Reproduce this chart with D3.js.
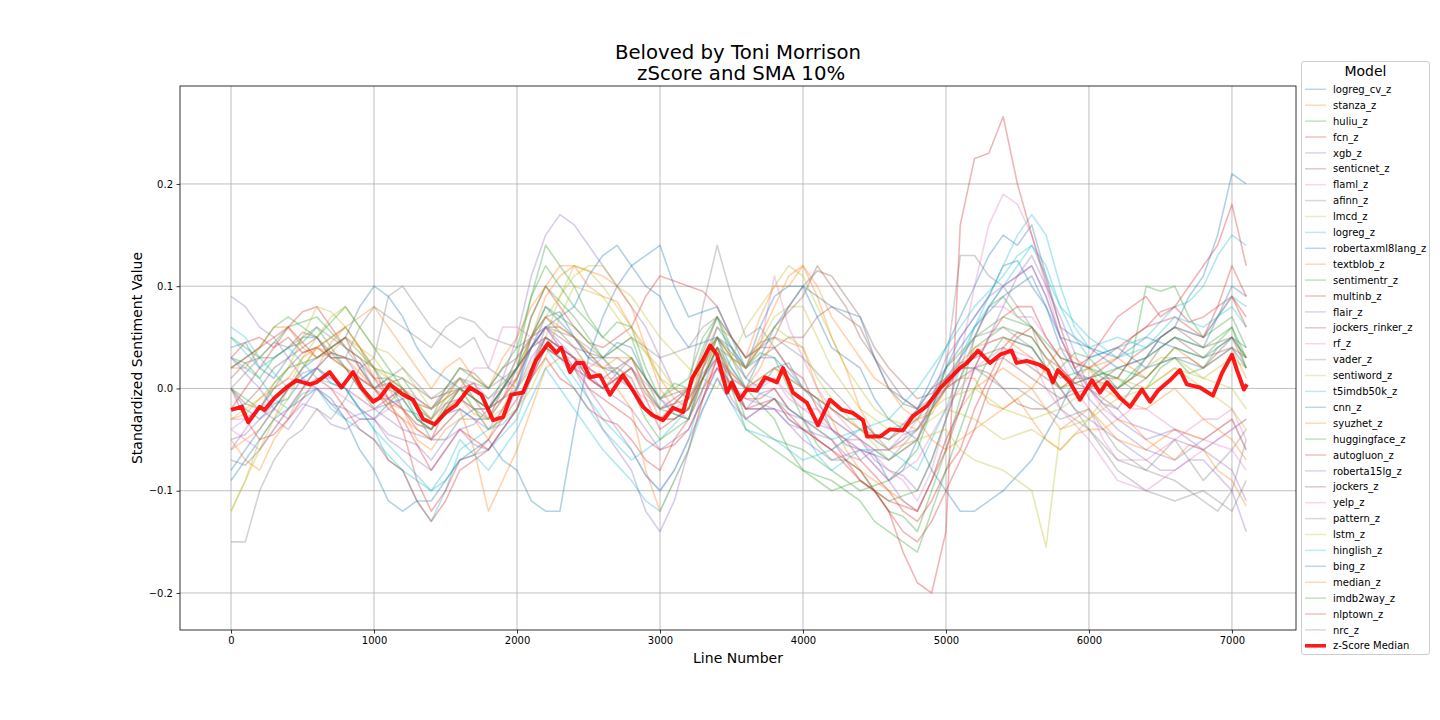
<!DOCTYPE html>
<html>
<head>
<meta charset="utf-8">
<script src="https://cdn.jsdelivr.net/npm/d3@7"></script>
<style>
  html, body { margin: 0; padding: 0; background: #fff; }
  svg text { font-family: "DejaVu Sans", sans-serif; fill: #000; }
</style>
</head>
<body>
<svg id="chart" width="1440" height="720"></svg>
<script>
// ---------- data ----------
const titleLines = ["Beloved by Toni Morrison", " zScore and SMA 10%"];
const xLabel = "Line Number";
const yLabel = "Standardized Sentiment Value";
const legendTitle = "Model";
const xTicks = [0, 1000, 2000, 3000, 4000, 5000, 6000, 7000];
const yTicks = [-0.2, -0.1, 0.0, 0.1, 0.2];

// sample positions (line numbers) of the model series: 0, 100, ..., 7100
const lineNumbers = d3.range(0, 7101, 100);

const modelNames = ["logreg_cv_z","stanza_z","huliu_z","fcn_z","xgb_z","senticnet_z","flaml_z","afinn_z","lmcd_z","logreg_z","robertaxml8lang_z","textblob_z","sentimentr_z","multinb_z","flair_z","jockers_rinker_z","rf_z","vader_z","sentiword_z","t5imdb50k_z","cnn_z","syuzhet_z","huggingface_z","autogluon_z","roberta15lg_z","jockers_z","yelp_z","pattern_z","lstm_z","hinglish_z","bing_z","median_z","imdb2way_z","nlptown_z","nrc_z"];

const logreg_cv_z = [0.04,0.045,0.02,0.01,0.03,0.05,0.05,0.03,0.03,0.025,0.00,0.01,-0.02,-0.025,-0.05,-0.05,-0.03,-0.02,-0.04,-0.03,0.00,0.04,0.07,0.075,0.05,0.03,0.03,0.045,0.04,0.01,-0.01,-0.025,-0.03,0.02,0.05,0.04,0.01,0.00,0.02,0.025,0.00,-0.01,-0.04,-0.055,-0.06,-0.065,-0.09,-0.08,-0.05,-0.02,0.02,0.05,0.07,0.09,0.12,0.125,0.10,0.08,0.04,0.015,0.01,0.015,0.00,0.01,0.03,0.05,0.06,0.09,0.11,0.15,0.21,0.20];
const stanza_z = [0.02,0.02,0.04,0.06,0.06,0.04,0.03,0.035,0.05,0.04,0.01,0.00,-0.02,-0.05,-0.06,-0.04,-0.03,-0.03,-0.05,-0.02,0.01,0.05,0.09,0.11,0.12,0.10,0.09,0.085,0.06,0.04,0.00,-0.02,-0.02,0.03,0.06,0.05,0.03,0.07,0.10,0.10,0.12,0.09,0.05,0.02,-0.02,-0.045,-0.05,-0.04,-0.03,-0.025,0.00,0.01,0.01,-0.015,-0.02,-0.01,-0.03,-0.05,-0.06,-0.045,-0.04,-0.04,-0.03,-0.035,-0.05,-0.06,-0.07,-0.055,-0.06,-0.08,-0.09,-0.115];
const huliu_z = [0.03,0.025,0.01,0.03,0.04,0.045,0.06,0.04,0.02,0.00,-0.02,-0.015,0.00,-0.03,-0.04,-0.015,0.00,-0.02,-0.03,0.00,0.03,0.09,0.14,0.12,0.10,0.07,0.05,0.065,0.06,0.02,-0.01,0.005,0.00,0.04,0.07,0.04,0.02,0.035,0.03,0.00,-0.03,-0.055,-0.07,-0.07,-0.08,-0.10,-0.12,-0.125,-0.14,-0.10,-0.06,-0.01,0.05,0.08,0.09,0.07,0.06,0.04,0.02,0.035,0.03,0.015,0.01,0.00,0.00,0.02,0.03,0.015,0.02,0.04,0.05,0.03];
const fcn_z = [0.03,0.045,0.05,0.04,0.06,0.075,0.08,0.06,0.04,0.03,0.01,-0.01,-0.02,-0.04,-0.05,-0.02,0.00,0.005,-0.02,-0.01,0.02,0.07,0.10,0.08,0.06,0.045,0.04,0.05,0.06,0.09,0.11,0.105,0.10,0.095,0.08,0.05,0.03,0.04,0.04,0.02,0.01,-0.02,-0.04,-0.05,-0.07,-0.085,-0.10,-0.12,-0.13,-0.11,-0.08,-0.06,-0.02,0.01,0.04,0.055,0.05,0.03,0.02,0.005,0.01,0.02,0.03,0.05,0.06,0.075,0.08,0.065,0.07,0.08,0.09,0.06];
const xgb_z = [0.09,0.08,0.06,0.05,0.03,0.01,0.00,-0.015,-0.02,-0.03,-0.03,-0.045,-0.05,-0.055,-0.07,-0.05,-0.04,-0.035,-0.02,0.01,0.05,0.11,0.15,0.17,0.16,0.14,0.12,0.10,0.08,0.06,0.03,0.00,-0.01,0.015,0.03,0.00,-0.02,-0.005,0.00,-0.02,-0.03,-0.05,-0.06,-0.05,-0.05,-0.07,-0.08,-0.085,-0.10,-0.07,-0.03,0.01,0.05,0.08,0.10,0.11,0.12,0.09,0.05,0.02,0.00,-0.015,-0.02,-0.035,-0.04,-0.045,-0.05,-0.055,-0.06,-0.05,-0.04,-0.03];
const senticnet_z = [0.00,-0.015,-0.02,0.005,0.02,0.035,0.04,0.03,0.03,0.025,0.01,0.01,0.00,-0.02,-0.03,-0.015,-0.01,-0.02,-0.02,-0.01,0.01,0.04,0.06,0.06,0.05,0.035,0.03,0.03,0.02,-0.005,-0.02,-0.015,0.00,0.035,0.07,0.05,0.03,0.045,0.05,0.08,0.10,0.115,0.11,0.09,0.07,0.04,0.02,0.005,-0.01,-0.005,0.01,0.02,0.02,0.015,0.00,-0.015,-0.02,-0.02,-0.01,0.00,0.00,-0.01,-0.02,0.00,0.01,0.025,0.03,0.03,0.02,0.035,0.05,0.02];
const flaml_z = [-0.03,-0.03,-0.02,-0.01,0.00,0.00,0.01,0.01,0.00,-0.01,-0.02,-0.01,0.00,-0.02,-0.03,-0.01,0.00,0.02,0.02,0.06,0.06,0.05,0.04,0.03,0.02,0.02,0.03,0.01,0.00,-0.02,-0.03,-0.02,-0.01,0.01,0.03,0.01,0.00,0.00,0.01,-0.01,-0.02,-0.02,-0.03,-0.04,-0.05,-0.06,-0.06,-0.05,-0.03,-0.01,0.01,0.03,0.05,0.08,0.08,0.07,0.07,0.05,0.03,0.00,-0.02,-0.05,-0.07,-0.07,-0.07,-0.06,-0.05,-0.04,-0.03,-0.03,-0.02,-0.05];
const afinn_z = [-0.15,-0.15,-0.10,-0.07,-0.05,-0.04,-0.02,-0.03,-0.01,0.02,0.03,0.09,0.10,0.08,0.06,0.05,0.04,0.05,0.02,0.01,0.00,0.02,0.04,0.03,0.02,0.01,0.00,0.015,0.03,0.00,-0.02,-0.01,0.00,0.08,0.14,0.09,0.05,0.06,0.04,0.02,0.00,-0.015,-0.03,-0.04,-0.05,-0.06,-0.07,-0.055,-0.04,-0.02,0.00,0.02,0.02,0.01,0.00,0.00,-0.01,-0.02,-0.03,-0.025,-0.02,-0.04,-0.06,-0.07,-0.08,-0.065,-0.05,-0.07,-0.09,-0.075,-0.06,-0.04];
const lmcd_z = [-0.12,-0.09,-0.05,-0.03,0.00,0.03,0.05,0.07,0.08,0.06,0.04,0.035,0.02,0.00,-0.02,-0.01,0.01,-0.01,-0.02,0.00,0.02,0.05,0.07,0.09,0.11,0.12,0.12,0.10,0.09,0.07,0.05,0.035,0.02,0.01,0.00,0.03,0.06,0.08,0.10,0.12,0.11,0.08,0.05,0.02,0.00,-0.02,-0.03,-0.035,-0.04,-0.03,-0.02,-0.025,-0.03,-0.04,-0.05,-0.045,-0.04,-0.05,-0.06,-0.045,-0.03,-0.01,0.00,0.01,0.02,0.03,0.03,0.02,0.01,0.005,0.00,-0.02];
const logreg_z = [0.06,0.05,0.03,0.015,0.00,0.01,0.02,0.01,0.00,-0.02,-0.04,-0.07,-0.08,-0.11,-0.13,-0.10,-0.06,-0.05,-0.04,-0.035,-0.02,0.02,0.05,0.03,0.01,-0.01,-0.03,-0.045,-0.06,-0.085,-0.10,-0.08,-0.05,0.00,0.04,0.01,-0.02,-0.02,-0.01,-0.03,-0.04,-0.065,-0.08,-0.07,-0.06,-0.06,-0.07,-0.06,-0.05,-0.02,0.01,0.03,0.06,0.08,0.10,0.12,0.14,0.12,0.08,0.05,0.03,0.035,0.04,0.045,0.05,0.065,0.08,0.085,0.10,0.13,0.15,0.14];
const robertaxml8lang_z = [0.00,-0.02,-0.03,-0.015,-0.01,0.01,0.02,0.005,0.00,-0.02,-0.03,-0.015,-0.01,-0.03,-0.04,-0.025,-0.02,-0.03,-0.03,-0.01,0.00,0.05,0.08,0.065,0.05,0.03,0.02,0.015,0.00,-0.02,-0.03,-0.03,-0.02,0.02,0.06,0.04,0.02,0.03,0.03,0.015,0.00,-0.01,-0.02,-0.03,-0.03,-0.045,-0.05,-0.035,-0.02,0.01,0.04,0.07,0.10,0.13,0.15,0.14,0.16,0.11,0.06,0.05,0.04,0.03,0.02,0.025,0.03,0.04,0.05,0.045,0.04,0.07,0.10,0.09];
const textblob_z = [-0.05,-0.07,-0.08,-0.05,-0.03,0.00,0.02,0.045,0.06,0.07,0.08,0.06,0.04,0.02,0.00,0.02,0.03,0.01,0.00,0.03,0.05,0.08,0.10,0.12,0.12,0.115,0.11,0.10,0.08,0.04,0.01,-0.01,-0.02,0.02,0.05,0.03,0.02,0.05,0.08,0.11,0.12,0.10,0.07,0.05,0.03,0.01,0.00,-0.02,-0.03,-0.05,-0.06,-0.05,-0.04,-0.03,-0.02,-0.01,0.00,0.02,0.04,0.03,0.02,0.025,0.03,0.02,0.01,0.025,0.04,0.03,0.02,0.03,0.04,0.01];
const sentimentr_z = [0.05,0.04,0.03,0.045,0.06,0.065,0.07,0.055,0.04,0.03,0.02,0.015,0.01,-0.01,-0.02,-0.005,0.01,0.00,-0.01,0.005,0.02,0.05,0.08,0.07,0.06,0.045,0.03,0.04,0.05,0.01,-0.02,-0.025,-0.03,0.01,0.05,0.01,-0.03,-0.04,-0.05,-0.055,-0.06,-0.07,-0.08,-0.09,-0.10,-0.095,-0.09,-0.075,-0.06,-0.02,0.02,0.035,0.05,0.06,0.07,0.065,0.06,0.045,0.03,0.025,0.02,0.015,0.01,0.03,0.10,0.095,0.10,0.07,0.05,0.06,0.07,0.04];
const multinb_z = [-0.02,0.00,0.02,0.04,0.05,0.035,0.04,0.05,0.06,0.04,0.02,-0.01,-0.04,-0.09,-0.12,-0.10,-0.07,-0.065,-0.05,-0.03,-0.01,0.01,0.03,0.01,0.00,-0.02,-0.03,-0.035,-0.05,-0.07,-0.08,-0.05,-0.03,0.00,0.02,0.00,-0.01,-0.01,0.00,-0.02,-0.03,-0.04,-0.05,-0.07,-0.09,-0.10,-0.12,-0.14,-0.15,-0.13,-0.10,-0.07,-0.04,0.00,0.03,0.05,0.06,0.04,0.02,0.005,0.00,0.01,0.01,0.03,0.04,0.05,0.06,0.055,0.05,0.07,0.09,0.07];
const flair_z = [-0.05,-0.045,-0.03,-0.02,0.00,0.015,0.02,0.035,0.03,0.01,0.00,-0.01,-0.02,-0.035,-0.04,-0.02,-0.01,-0.02,-0.02,0.00,0.01,0.04,0.06,0.04,0.02,-0.01,-0.04,-0.06,-0.08,-0.12,-0.14,-0.11,-0.06,-0.01,0.02,-0.01,-0.03,-0.02,-0.02,-0.035,-0.04,-0.045,-0.05,-0.065,-0.07,-0.06,-0.06,-0.045,-0.04,-0.015,0.00,0.02,0.03,0.045,0.05,0.045,0.04,0.02,0.00,-0.02,-0.03,-0.04,-0.05,-0.06,-0.07,-0.08,-0.08,-0.07,-0.07,-0.085,-0.10,-0.14];
const jockers_rinker_z = [0.01,0.025,0.03,0.03,0.04,0.055,0.05,0.03,0.02,0.00,-0.01,-0.01,0.00,-0.015,-0.02,0.00,0.02,0.015,0.00,0.02,0.03,0.05,0.07,0.055,0.04,0.035,0.02,0.02,0.01,-0.02,-0.03,-0.015,0.00,0.03,0.05,0.03,0.01,0.03,0.04,0.05,0.05,0.07,0.08,0.07,0.06,0.03,0.00,-0.015,-0.02,0.00,0.01,0.025,0.03,0.035,0.04,0.03,0.02,0.01,0.00,0.01,0.01,0.005,0.00,0.01,0.02,0.04,0.05,0.04,0.03,0.035,0.04,0.03];
const rf_z = [-0.04,-0.03,-0.02,0.00,0.01,0.005,0.00,0.00,-0.01,-0.02,-0.03,-0.02,-0.01,-0.01,-0.02,-0.01,0.00,0.005,-0.01,0.00,0.02,0.04,0.05,0.04,0.03,0.02,0.01,0.01,0.00,-0.01,-0.02,-0.01,0.00,0.02,0.04,0.03,0.02,0.04,0.11,0.06,0.03,0.00,-0.02,-0.035,-0.05,-0.065,-0.08,-0.09,-0.11,-0.08,-0.03,0.03,0.10,0.16,0.19,0.18,0.15,0.10,0.05,0.02,0.00,-0.02,-0.03,-0.02,-0.02,-0.03,-0.04,-0.045,-0.05,-0.055,-0.06,-0.08];
const vader_z = [0.00,0.015,0.03,0.045,0.04,0.05,0.06,0.05,0.04,0.02,0.00,0.01,0.02,0.005,-0.01,0.00,0.01,0.005,0.00,0.01,0.02,0.04,0.05,0.04,0.03,0.01,0.00,0.01,0.02,0.00,-0.02,-0.015,-0.01,0.01,0.03,0.01,0.00,0.01,0.02,0.01,0.00,-0.01,-0.02,-0.03,-0.04,-0.045,-0.05,-0.04,-0.03,-0.01,0.02,0.13,0.13,0.11,0.10,0.08,0.06,0.02,-0.02,-0.03,-0.04,-0.055,-0.07,-0.075,-0.08,-0.085,-0.09,-0.10,-0.11,-0.12,-0.10,-0.05];
const sentiword_z = [-0.03,-0.02,-0.01,0.005,0.02,0.05,0.08,0.075,0.06,0.04,0.03,0.01,0.00,-0.015,-0.02,-0.01,0.01,-0.01,-0.03,-0.02,0.00,0.025,0.05,0.09,0.12,0.115,0.10,0.08,0.06,0.035,0.01,0.00,0.00,0.025,0.04,0.03,0.02,0.045,0.07,0.08,0.08,0.05,0.02,0.00,-0.02,-0.03,-0.04,-0.035,-0.03,-0.02,-0.01,-0.005,0.00,-0.01,-0.02,-0.025,-0.03,-0.025,-0.02,-0.01,0.00,0.005,0.01,0.005,0.00,0.01,0.02,0.015,0.01,0.02,0.03,0.02];
const t5imdb50k_z = [0.03,0.02,0.01,-0.01,-0.02,-0.005,0.00,-0.02,-0.03,-0.04,-0.05,-0.065,-0.08,-0.09,-0.10,-0.09,-0.07,-0.065,-0.06,-0.045,-0.03,0.01,0.04,0.02,0.00,-0.02,-0.04,-0.055,-0.07,-0.06,-0.05,-0.035,-0.02,0.01,0.04,0.02,0.00,-0.005,-0.01,-0.02,-0.03,-0.04,-0.05,-0.045,-0.04,-0.05,-0.06,-0.07,-0.08,-0.05,-0.02,0.02,0.06,0.09,0.12,0.15,0.17,0.15,0.10,0.06,0.04,0.045,0.05,0.045,0.04,0.05,0.06,0.055,0.05,0.07,0.09,0.08];
const cnn_z = [-0.09,-0.07,-0.05,-0.03,-0.02,-0.01,0.00,-0.01,-0.03,-0.06,-0.08,-0.11,-0.12,-0.11,-0.11,-0.09,-0.07,-0.06,-0.05,-0.07,-0.08,-0.11,-0.12,-0.12,-0.04,0.03,0.07,0.10,0.12,0.13,0.14,0.10,0.07,0.075,0.08,0.05,0.02,0.06,0.09,0.10,0.10,0.07,0.04,0.03,0.02,-0.01,-0.03,-0.04,-0.05,-0.08,-0.10,-0.12,-0.12,-0.11,-0.10,-0.085,-0.07,-0.045,-0.02,0.01,0.03,0.035,0.04,0.03,0.02,0.025,0.03,0.025,0.02,0.03,0.04,0.02];
const syuzhet_z = [-0.06,-0.05,-0.04,-0.02,0.00,0.02,0.04,0.035,0.03,0.015,0.00,-0.015,-0.03,-0.04,-0.05,-0.035,-0.02,-0.06,-0.12,-0.09,-0.06,-0.02,0.02,0.03,0.03,0.025,0.02,0.00,-0.02,-0.08,-0.12,-0.09,-0.06,-0.01,0.03,0.015,0.00,0.02,0.05,0.045,0.04,0.00,-0.03,-0.06,-0.08,-0.09,-0.10,-0.11,-0.12,-0.09,-0.05,-0.02,0.00,0.01,0.02,0.01,0.00,-0.02,-0.04,-0.03,-0.02,-0.035,-0.05,-0.055,-0.06,-0.05,-0.04,-0.045,-0.05,-0.04,-0.03,-0.06];
const huggingface_z = [0.02,0.03,0.04,0.06,0.07,0.06,0.05,0.065,0.08,0.06,0.04,0.02,0.00,-0.015,-0.03,0.00,0.02,0.01,0.00,0.02,0.04,0.09,0.12,0.10,0.08,0.065,0.05,0.04,0.03,0.01,-0.01,0.00,0.01,0.05,0.07,0.03,0.00,-0.015,-0.03,-0.06,-0.08,-0.09,-0.10,-0.095,-0.09,-0.10,-0.11,-0.105,-0.10,-0.07,-0.03,0.01,0.04,0.05,0.06,0.055,0.05,0.03,0.01,0.015,0.02,0.01,0.00,0.015,0.03,0.04,0.05,0.045,0.04,0.05,0.06,0.03];
const autogluon_z = [0.00,-0.03,-0.05,-0.045,-0.03,-0.01,0.01,0.00,-0.02,-0.04,-0.05,-0.07,-0.08,-0.11,-0.13,-0.11,-0.08,-0.07,-0.06,-0.04,-0.02,0.01,0.04,0.03,0.02,0.00,-0.01,-0.02,-0.03,-0.05,-0.06,-0.055,-0.04,-0.01,0.03,0.00,-0.02,-0.02,-0.01,-0.03,-0.04,-0.05,-0.06,-0.07,-0.08,-0.10,-0.11,-0.115,-0.12,-0.09,-0.06,-0.02,0.02,0.05,0.07,0.08,0.08,0.05,0.03,0.025,0.02,0.03,0.04,0.05,0.06,0.065,0.07,0.06,0.05,0.08,0.12,0.09];
const roberta15lg_z = [-0.06,-0.04,-0.02,-0.03,-0.04,-0.02,0.00,-0.015,-0.03,-0.025,-0.02,-0.03,-0.04,-0.045,-0.05,-0.035,-0.02,-0.03,-0.04,-0.02,0.00,0.03,0.05,0.04,0.03,0.015,0.00,-0.01,-0.02,-0.04,-0.06,-0.05,-0.04,-0.01,0.02,0.005,-0.01,-0.015,-0.02,-0.025,-0.03,-0.035,-0.04,-0.05,-0.06,-0.065,-0.07,-0.06,-0.05,-0.01,0.03,0.05,0.07,0.09,0.10,0.11,0.12,0.09,0.05,0.02,-0.01,-0.025,-0.04,-0.05,-0.06,-0.065,-0.07,-0.06,-0.05,-0.04,-0.03,-0.06];
const jockers_z = [-0.02,-0.015,0.00,0.02,0.03,0.04,0.05,0.035,0.02,0.01,0.00,0.005,0.01,0.00,-0.01,-0.005,0.00,-0.01,-0.02,0.00,0.02,0.04,0.06,0.05,0.04,0.02,0.01,0.02,0.03,0.01,-0.01,-0.005,0.00,0.03,0.05,0.035,0.02,0.04,0.06,0.075,0.09,0.12,0.10,0.08,0.05,0.03,0.01,-0.01,-0.02,-0.01,0.00,0.01,0.02,0.025,0.03,0.02,0.01,0.00,-0.01,-0.005,0.00,0.01,0.02,0.025,0.03,0.05,0.06,0.05,0.04,0.045,0.05,0.03];
const yelp_z = [-0.04,-0.05,-0.06,-0.04,-0.02,0.00,0.02,0.01,0.00,-0.01,-0.02,-0.01,0.00,-0.01,-0.02,-0.005,0.01,-0.01,-0.03,0.00,0.03,0.05,0.06,0.04,0.02,0.01,0.00,0.01,0.02,0.005,-0.01,-0.02,-0.03,0.00,0.03,0.015,0.00,0.005,0.01,-0.005,-0.02,-0.03,-0.04,-0.05,-0.06,-0.075,-0.09,-0.08,-0.07,-0.045,-0.02,0.00,0.02,0.03,0.04,0.035,0.03,0.00,-0.02,-0.035,-0.05,-0.07,-0.09,-0.095,-0.10,-0.09,-0.08,-0.07,-0.06,-0.05,-0.04,-0.03];
const pattern_z = [-0.07,-0.075,-0.06,-0.04,-0.02,0.00,0.02,0.035,0.03,0.06,0.08,0.07,0.06,0.05,0.04,0.06,0.07,0.065,0.05,0.045,0.04,0.05,0.06,0.055,0.05,0.04,0.03,0.04,0.05,0.04,0.03,0.035,0.04,0.06,0.07,0.05,0.03,0.04,0.05,0.04,0.03,0.015,0.00,-0.015,-0.03,-0.045,-0.06,-0.05,-0.04,-0.02,0.00,0.03,0.05,0.055,0.06,0.05,0.04,0.02,0.00,-0.02,-0.04,-0.06,-0.08,-0.09,-0.10,-0.105,-0.11,-0.105,-0.10,-0.11,-0.12,-0.09];
const lstm_z = [-0.12,-0.09,-0.06,-0.03,-0.01,0.02,0.04,0.05,0.06,0.04,0.02,0.01,0.00,-0.015,-0.03,-0.01,0.00,-0.02,-0.04,-0.03,-0.02,0.00,0.03,0.07,0.10,0.095,0.09,0.07,0.05,0.035,0.02,0.00,-0.01,0.02,0.05,0.03,0.02,0.04,0.06,0.05,0.04,0.01,-0.01,-0.025,-0.04,-0.055,-0.07,-0.06,-0.05,-0.045,-0.04,-0.06,-0.07,-0.075,-0.08,-0.09,-0.10,-0.155,-0.04,-0.035,-0.03,-0.02,-0.01,-0.005,0.00,0.01,0.02,0.01,0.00,-0.01,-0.02,-0.04];
const hinglish_z = [0.05,0.035,0.02,0.03,0.04,0.025,0.01,0.005,0.00,-0.02,-0.04,-0.055,-0.07,-0.085,-0.10,-0.08,-0.05,-0.065,-0.08,-0.06,-0.04,-0.01,0.02,0.00,-0.02,-0.04,-0.06,-0.075,-0.09,-0.11,-0.12,-0.09,-0.06,-0.02,0.01,-0.015,-0.04,-0.045,-0.05,-0.06,-0.07,-0.065,-0.06,-0.05,-0.04,-0.035,-0.03,-0.015,0.00,0.02,0.04,0.06,0.08,0.095,0.11,0.13,0.14,0.11,0.08,0.065,0.05,0.04,0.03,0.035,0.04,0.055,0.07,0.065,0.06,0.07,0.08,0.06];
const bing_z = [-0.08,-0.06,-0.04,-0.02,0.00,0.02,0.03,0.04,0.05,0.08,0.10,0.09,0.07,0.04,0.02,0.01,0.00,-0.01,-0.02,0.00,0.02,0.04,0.06,0.07,0.08,0.11,0.13,0.14,0.12,0.10,0.09,0.06,0.04,0.045,0.05,0.02,0.00,0.03,0.06,0.08,0.10,0.09,0.08,0.075,0.07,0.03,0.00,-0.01,-0.02,0.00,0.02,0.04,0.06,0.075,0.09,0.10,0.11,0.08,0.05,0.045,0.04,0.035,0.03,0.04,0.05,0.045,0.04,0.035,0.03,0.04,0.05,0.04];
const median_z = [-0.03,-0.025,-0.01,0.00,0.01,0.03,0.04,0.03,0.02,0.01,0.00,-0.015,-0.02,-0.035,-0.04,-0.02,-0.01,-0.025,-0.03,-0.01,0.01,0.05,0.07,0.06,0.05,0.035,0.02,0.03,0.03,0.00,-0.03,-0.03,-0.02,0.01,0.04,0.015,0.00,0.01,0.02,0.01,0.00,-0.01,-0.02,-0.03,-0.04,-0.05,-0.06,-0.055,-0.05,-0.02,0.00,0.025,0.04,0.045,0.05,0.04,0.03,0.015,0.00,0.01,0.02,0.00,-0.01,-0.015,-0.02,-0.01,0.00,-0.015,-0.03,-0.04,-0.05,-0.07];
const imdb2way_z = [0.00,-0.01,-0.02,0.00,0.02,0.025,0.03,0.04,0.05,0.035,0.02,0.00,-0.01,-0.03,-0.04,-0.02,0.00,-0.01,-0.02,0.00,0.02,0.07,0.10,0.085,0.07,0.05,0.03,0.015,0.00,-0.03,-0.05,-0.04,-0.03,0.01,0.04,0.00,-0.04,-0.05,-0.06,-0.07,-0.08,-0.085,-0.09,-0.10,-0.11,-0.13,-0.14,-0.15,-0.16,-0.12,-0.08,-0.04,0.00,0.03,0.05,0.045,0.04,0.02,0.00,0.005,0.01,0.015,0.02,0.015,0.01,0.025,0.04,0.035,0.03,0.045,0.06,0.02];
const nlptown_z = [0.02,0.03,0.04,0.05,0.06,0.045,0.03,0.04,0.05,0.02,0.00,-0.02,-0.03,-0.055,-0.08,-0.06,-0.04,-0.05,-0.06,-0.04,-0.02,0.02,0.05,0.04,0.03,0.01,0.00,0.01,0.02,-0.01,-0.04,-0.03,-0.02,0.01,0.04,0.01,-0.02,-0.015,-0.01,-0.025,-0.04,-0.05,-0.06,-0.075,-0.09,-0.10,-0.12,-0.16,-0.19,-0.20,-0.14,0.16,0.225,0.23,0.266,0.20,0.15,0.105,0.06,0.02,0.03,0.05,0.07,0.08,0.09,0.07,0.08,0.10,0.12,0.14,0.18,0.12];
const nrc_z = [0.03,0.015,0.00,-0.02,-0.03,-0.015,-0.02,-0.035,-0.04,-0.03,-0.03,-0.05,-0.06,-0.07,-0.08,-0.06,-0.04,-0.055,-0.06,-0.04,-0.02,0.02,0.06,0.045,0.03,0.00,-0.02,-0.04,-0.06,-0.085,-0.10,-0.08,-0.05,-0.02,0.01,-0.015,-0.03,-0.02,-0.02,-0.035,-0.05,-0.06,-0.07,-0.065,-0.06,-0.075,-0.09,-0.11,-0.12,-0.09,-0.05,-0.02,0.02,0.05,0.08,0.11,0.13,0.10,0.07,0.035,0.00,-0.015,-0.03,-0.04,-0.05,-0.045,-0.04,-0.05,-0.06,-0.07,-0.08,-0.11];

// z-Score Median, read at irregular line positions
const medianLines = [0,75,120,200,235,305,387,457,550,597,690,772,853,911,993,1040,1110,1203,1273,1343,1424,1506,1576,1669,1751,1832,1902,1960,2042,2135,2217,2275,2310,2371,2415,2462,2510,2580,2650,2741,2811,2881,2944,3021,3091,3161,3224,3301,3350,3399,3469,3503,3559,3608,3678,3734,3818,3860,3930,4028,4105,4189,4273,4350,4420,4448,4539,4608,4699,4769,4867,4958,5049,5098,5147,5224,5308,5378,5459,5494,5564,5657,5713,5748,5783,5867,5937,6021,6077,6126,6217,6287,6371,6427,6483,6566,6636,6685,6776,6867,6930,7000,7035,7084,7105];
const zScoreMedian = [-0.021,-0.018,-0.033,-0.018,-0.021,-0.009,0.001,0.008,0.004,0.006,0.016,0.001,0.016,0.001,-0.013,-0.009,0.004,-0.006,-0.011,-0.030,-0.035,-0.023,-0.016,0.001,-0.006,-0.031,-0.028,-0.006,-0.004,0.028,0.044,0.035,0.040,0.016,0.025,0.025,0.011,0.013,-0.006,0.013,-0.002,-0.018,-0.026,-0.031,-0.019,-0.023,0.010,0.028,0.042,0.033,-0.004,0.006,-0.011,-0.001,-0.002,0.011,0.006,0.020,-0.004,-0.014,-0.036,-0.011,-0.021,-0.024,-0.031,-0.047,-0.047,-0.040,-0.041,-0.027,-0.017,0.000,0.013,0.020,0.025,0.037,0.025,0.033,0.037,0.025,0.027,0.023,0.018,0.006,0.018,0.006,-0.011,0.008,-0.004,0.006,-0.009,-0.018,-0.001,-0.013,-0.002,0.008,0.018,0.004,0.001,-0.007,0.015,0.033,0.018,-0.001,0.004];

const modelValues = [logreg_cv_z,stanza_z,huliu_z,fcn_z,xgb_z,senticnet_z,flaml_z,afinn_z,lmcd_z,logreg_z,robertaxml8lang_z,textblob_z,sentimentr_z,multinb_z,flair_z,jockers_rinker_z,rf_z,vader_z,sentiword_z,t5imdb50k_z,cnn_z,syuzhet_z,huggingface_z,autogluon_z,roberta15lg_z,jockers_z,yelp_z,pattern_z,lstm_z,hinglish_z,bing_z,median_z,imdb2way_z,nlptown_z,nrc_z];

const palette = d3.schemeCategory10;

// ---------- layout ----------
const svg = d3.select("#chart");
const plot = { left: 180, top: 86, right: 1296, bottom: 630 };

const x = d3.scaleLinear().domain([-357, 7448]).range([plot.left, plot.right]);
const y = d3.scaleLinear().domain([-0.2362, 0.2958]).range([plot.bottom, plot.top]);

svg.append("rect").attr("x", 0).attr("y", 0).attr("width", 1440).attr("height", 720).attr("fill", "#fff");

svg.append("defs").append("clipPath").attr("id", "clip")
  .append("rect").attr("x", plot.left).attr("y", plot.top)
  .attr("width", plot.right - plot.left).attr("height", plot.bottom - plot.top);

// grid
const grid = svg.append("g");
grid.selectAll("line.gx").data(xTicks).join("line")
  .attr("x1", d => x(d)).attr("x2", d => x(d))
  .attr("y1", plot.top).attr("y2", plot.bottom)
  .attr("stroke", "#b0b0b0").attr("stroke-width", 0.8);
grid.selectAll("line.gy").data(yTicks).join("line")
  .attr("y1", d => y(d)).attr("y2", d => y(d))
  .attr("x1", plot.left).attr("x2", plot.right)
  .attr("stroke", "#b0b0b0").attr("stroke-width", 0.8);

// series
const lineGen = d3.line()
  .defined(d => d[0] != null && d[1] != null)
  .x(d => x(d[0])).y(d => y(d[1]));
const series = svg.append("g").attr("clip-path", "url(#clip)");
modelValues.forEach((vals, i) => {
  series.append("path")
    .datum(vals.map((v, j) => [lineNumbers[j], v]))
    .attr("d", lineGen)
    .attr("fill", "none")
    .attr("stroke", palette[i % 10])
    .attr("stroke-opacity", 0.34)
    .attr("stroke-width", 1.6)
    .attr("stroke-linejoin", "round");
});
series.append("path")
  .datum(medianLines.map((ln, j) => [ln, zScoreMedian[j]]))
  .attr("d", lineGen)
  .attr("fill", "none")
  .attr("stroke", "#ff0000")
  .attr("stroke-opacity", 0.9)
  .attr("stroke-width", 4)
  .attr("stroke-linejoin", "round");

// axes
const xAxis = d3.axisBottom(x).tickValues(xTicks).tickFormat(d3.format("d")).tickSize(3.5).tickPadding(3.5);
const yAxis = d3.axisLeft(y).tickValues(yTicks).tickFormat(d3.format(".1f")).tickSize(3.5).tickPadding(3.5);
const gx = svg.append("g").attr("transform", `translate(0,${plot.bottom})`).call(xAxis);
const gy = svg.append("g").attr("transform", `translate(${plot.left},0)`).call(yAxis);
[gx, gy].forEach(g => {
  g.select(".domain").remove();
  g.selectAll(".tick line").attr("stroke", "#000").attr("stroke-width", 0.8);
  g.selectAll(".tick text").attr("font-size", 10).attr("font-family", "DejaVu Sans").attr("fill", "#000");
});

// frame
svg.append("rect").attr("x", plot.left).attr("y", plot.top)
  .attr("width", plot.right - plot.left).attr("height", plot.bottom - plot.top)
  .attr("fill", "none").attr("stroke", "#000").attr("stroke-width", 0.8);

// labels
svg.append("text").attr("x", 738).attr("y", 59).attr("text-anchor", "middle")
  .attr("font-size", 19.7).text(titleLines[0]);
svg.append("text").attr("x", 738).attr("y", 80).attr("text-anchor", "middle")
  .attr("font-size", 19.7).attr("xml:space", "preserve").text(titleLines[1]);
svg.append("text").attr("x", 738).attr("y", 663).attr("text-anchor", "middle")
  .attr("font-size", 14).text(xLabel);
svg.append("text").attr("transform", "translate(142,358) rotate(-90)").attr("text-anchor", "middle")
  .attr("font-size", 14).text(yLabel);

// legend
const legend = svg.append("g");
legend.append("rect").attr("x", 1301.5).attr("y", 61.5).attr("width", 128).attr("height", 593)
  .attr("rx", 2.5).attr("fill", "#fff").attr("fill-opacity", 0.8)
  .attr("stroke", "#cccccc").attr("stroke-width", 1);
legend.append("text").attr("x", 1365.5).attr("y", 76).attr("text-anchor", "middle")
  .attr("font-size", 14).text(legendTitle);
const legendItems = modelNames.map((n, i) => ({ name: n, color: palette[i % 10], opacity: 0.3, width: 1.5 }))
  .concat([{ name: "z-Score Median", color: "#ff0000", opacity: 0.9, width: 3.6 }]);
const li = legend.selectAll("g.item").data(legendItems).join("g")
  .attr("transform", (d, i) => `translate(0,${89.3 + i * 15.9})`);
li.append("line").attr("x1", 1305).attr("x2", 1326).attr("y1", 0).attr("y2", 0)
  .attr("stroke", d => d.color).attr("stroke-opacity", d => d.opacity).attr("stroke-width", d => d.width);
li.append("text").attr("x", 1333).attr("y", 3.6).attr("font-size", 10).text(d => d.name);
</script>
</body>
</html>
